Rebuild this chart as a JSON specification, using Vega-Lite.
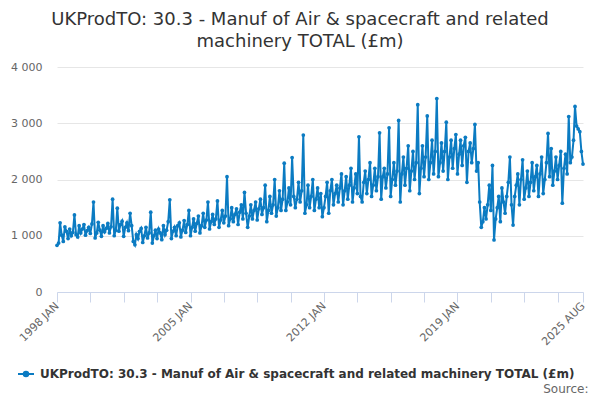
{
  "$schema": "https://vega.github.io/schema/vega-lite/v6.json",
  "description": "UKProdTO 30.3 monthly series, 1998 JAN to 2025 AUG",
  "width": 526,
  "height": 225,
  "autosize": {"type": "none"},
  "padding": {"left": 57, "top": 67, "right": 17, "bottom": 108},
  "background": "white",
  "config": {
    "font": "DejaVu Sans",
    "view": {"stroke": null}
  },
  "title": {
    "text": ["UKProdTO: 30.3 - Manuf of Air & spacecraft and related", "machinery TOTAL (£m)"],
    "fontSize": 18,
    "fontWeight": "normal",
    "color": "#333333",
    "anchor": "middle",
    "dx": -20,
    "offset": 10,
    "lineHeight": 22
  },
  "data": {
    "values": [
      {"month": "1998-01", "value": 830}, {"month": "1998-02", "value": 870}, {"month": "1998-03", "value": 1230}, {"month": "1998-04", "value": 1010}, {"month": "1998-05", "value": 900}, {"month": "1998-06", "value": 1160}, {"month": "1998-07", "value": 1080}, {"month": "1998-08", "value": 950}, {"month": "1998-09", "value": 1120}, {"month": "1998-10", "value": 1000}, {"month": "1998-11", "value": 1060}, {"month": "1998-12", "value": 1370},
      {"month": "1999-01", "value": 1020}, {"month": "1999-02", "value": 980}, {"month": "1999-03", "value": 1180}, {"month": "1999-04", "value": 1050}, {"month": "1999-05", "value": 1120}, {"month": "1999-06", "value": 1200}, {"month": "1999-07", "value": 1010}, {"month": "1999-08", "value": 1090}, {"month": "1999-09", "value": 1150}, {"month": "1999-10", "value": 1040}, {"month": "1999-11", "value": 1210}, {"month": "1999-12", "value": 1600},
      {"month": "2000-01", "value": 960}, {"month": "2000-02", "value": 1050}, {"month": "2000-03", "value": 1240}, {"month": "2000-04", "value": 1100}, {"month": "2000-05", "value": 990}, {"month": "2000-06", "value": 1180}, {"month": "2000-07", "value": 1070}, {"month": "2000-08", "value": 1130}, {"month": "2000-09", "value": 1220}, {"month": "2000-10", "value": 1050}, {"month": "2000-11", "value": 1160}, {"month": "2000-12", "value": 1650},
      {"month": "2001-01", "value": 1000}, {"month": "2001-02", "value": 1100}, {"month": "2001-03", "value": 1490}, {"month": "2001-04", "value": 1080}, {"month": "2001-05", "value": 1200}, {"month": "2001-06", "value": 1260}, {"month": "2001-07", "value": 990}, {"month": "2001-08", "value": 1150}, {"month": "2001-09", "value": 1230}, {"month": "2001-10", "value": 1090}, {"month": "2001-11", "value": 1400}, {"month": "2001-12", "value": 1180},
      {"month": "2002-01", "value": 900}, {"month": "2002-02", "value": 840}, {"month": "2002-03", "value": 1020}, {"month": "2002-04", "value": 950}, {"month": "2002-05", "value": 1080}, {"month": "2002-06", "value": 1130}, {"month": "2002-07", "value": 880}, {"month": "2002-08", "value": 1000}, {"month": "2002-09", "value": 1150}, {"month": "2002-10", "value": 960}, {"month": "2002-11", "value": 1050}, {"month": "2002-12", "value": 1420},
      {"month": "2003-01", "value": 870}, {"month": "2003-02", "value": 1000}, {"month": "2003-03", "value": 1100}, {"month": "2003-04", "value": 950}, {"month": "2003-05", "value": 1120}, {"month": "2003-06", "value": 1050}, {"month": "2003-07", "value": 930}, {"month": "2003-08", "value": 1180}, {"month": "2003-09", "value": 1020}, {"month": "2003-10", "value": 1100}, {"month": "2003-11", "value": 1250}, {"month": "2003-12", "value": 1640},
      {"month": "2004-01", "value": 950}, {"month": "2004-02", "value": 1080}, {"month": "2004-03", "value": 1150}, {"month": "2004-04", "value": 1000}, {"month": "2004-05", "value": 1180}, {"month": "2004-06", "value": 1230}, {"month": "2004-07", "value": 980}, {"month": "2004-08", "value": 1100}, {"month": "2004-09", "value": 1270}, {"month": "2004-10", "value": 1060}, {"month": "2004-11", "value": 1200}, {"month": "2004-12", "value": 1450},
      {"month": "2005-01", "value": 1000}, {"month": "2005-02", "value": 1150}, {"month": "2005-03", "value": 1300}, {"month": "2005-04", "value": 1080}, {"month": "2005-05", "value": 1220}, {"month": "2005-06", "value": 1350}, {"month": "2005-07", "value": 1050}, {"month": "2005-08", "value": 1180}, {"month": "2005-09", "value": 1400}, {"month": "2005-10", "value": 1150}, {"month": "2005-11", "value": 1280}, {"month": "2005-12", "value": 1600},
      {"month": "2006-01", "value": 1120}, {"month": "2006-02", "value": 1250}, {"month": "2006-03", "value": 1380}, {"month": "2006-04", "value": 1200}, {"month": "2006-05", "value": 1300}, {"month": "2006-06", "value": 1620}, {"month": "2006-07", "value": 1150}, {"month": "2006-08", "value": 1280}, {"month": "2006-09", "value": 1450}, {"month": "2006-10", "value": 1230}, {"month": "2006-11", "value": 1350}, {"month": "2006-12", "value": 2050},
      {"month": "2007-01", "value": 1180}, {"month": "2007-02", "value": 1300}, {"month": "2007-03", "value": 1500}, {"month": "2007-04", "value": 1250}, {"month": "2007-05", "value": 1380}, {"month": "2007-06", "value": 1480}, {"month": "2007-07", "value": 1200}, {"month": "2007-08", "value": 1420}, {"month": "2007-09", "value": 1550}, {"month": "2007-10", "value": 1300}, {"month": "2007-11", "value": 1770}, {"month": "2007-12", "value": 1400},
      {"month": "2008-01", "value": 1150}, {"month": "2008-02", "value": 1350}, {"month": "2008-03", "value": 1550}, {"month": "2008-04", "value": 1300}, {"month": "2008-05", "value": 1450}, {"month": "2008-06", "value": 1600}, {"month": "2008-07", "value": 1280}, {"month": "2008-08", "value": 1480}, {"month": "2008-09", "value": 1650}, {"month": "2008-10", "value": 1380}, {"month": "2008-11", "value": 1500}, {"month": "2008-12", "value": 1900},
      {"month": "2009-01", "value": 1250}, {"month": "2009-02", "value": 1450}, {"month": "2009-03", "value": 1700}, {"month": "2009-04", "value": 1400}, {"month": "2009-05", "value": 1550}, {"month": "2009-06", "value": 2000}, {"month": "2009-07", "value": 1350}, {"month": "2009-08", "value": 1500}, {"month": "2009-09", "value": 1800}, {"month": "2009-10", "value": 1450}, {"month": "2009-11", "value": 1650}, {"month": "2009-12", "value": 2290},
      {"month": "2010-01", "value": 1450}, {"month": "2010-02", "value": 1600}, {"month": "2010-03", "value": 1850}, {"month": "2010-04", "value": 1550}, {"month": "2010-05", "value": 2390}, {"month": "2010-06", "value": 1700}, {"month": "2010-07", "value": 1500}, {"month": "2010-08", "value": 1650}, {"month": "2010-09", "value": 1950}, {"month": "2010-10", "value": 1600}, {"month": "2010-11", "value": 1800}, {"month": "2010-12", "value": 2790},
      {"month": "2011-01", "value": 1400}, {"month": "2011-02", "value": 1550}, {"month": "2011-03", "value": 1900}, {"month": "2011-04", "value": 1500}, {"month": "2011-05", "value": 1700}, {"month": "2011-06", "value": 2000}, {"month": "2011-07", "value": 1450}, {"month": "2011-08", "value": 1650}, {"month": "2011-09", "value": 1850}, {"month": "2011-10", "value": 1500}, {"month": "2011-11", "value": 1750}, {"month": "2011-12", "value": 1340},
      {"month": "2012-01", "value": 1500}, {"month": "2012-02", "value": 1700}, {"month": "2012-03", "value": 1950}, {"month": "2012-04", "value": 1400}, {"month": "2012-05", "value": 1800}, {"month": "2012-06", "value": 2000}, {"month": "2012-07", "value": 1550}, {"month": "2012-08", "value": 1750}, {"month": "2012-09", "value": 1900}, {"month": "2012-10", "value": 1600}, {"month": "2012-11", "value": 1850}, {"month": "2012-12", "value": 2100},
      {"month": "2013-01", "value": 1550}, {"month": "2013-02", "value": 1800}, {"month": "2013-03", "value": 2050}, {"month": "2013-04", "value": 1650}, {"month": "2013-05", "value": 1900}, {"month": "2013-06", "value": 2200}, {"month": "2013-07", "value": 1600}, {"month": "2013-08", "value": 1850}, {"month": "2013-09", "value": 2100}, {"month": "2013-10", "value": 1750}, {"month": "2013-11", "value": 2760}, {"month": "2013-12", "value": 1700},
      {"month": "2014-01", "value": 1600}, {"month": "2014-02", "value": 1950}, {"month": "2014-03", "value": 2150}, {"month": "2014-04", "value": 1750}, {"month": "2014-05", "value": 2000}, {"month": "2014-06", "value": 2300}, {"month": "2014-07", "value": 1700}, {"month": "2014-08", "value": 1900}, {"month": "2014-09", "value": 2200}, {"month": "2014-10", "value": 1800}, {"month": "2014-11", "value": 2050}, {"month": "2014-12", "value": 2830},
      {"month": "2015-01", "value": 1650}, {"month": "2015-02", "value": 2050}, {"month": "2015-03", "value": 2200}, {"month": "2015-04", "value": 1850}, {"month": "2015-05", "value": 2100}, {"month": "2015-06", "value": 2920}, {"month": "2015-07", "value": 1700}, {"month": "2015-08", "value": 2000}, {"month": "2015-09", "value": 2300}, {"month": "2015-10", "value": 1900}, {"month": "2015-11", "value": 2150}, {"month": "2015-12", "value": 3050},
      {"month": "2016-01", "value": 1600}, {"month": "2016-02", "value": 2100}, {"month": "2016-03", "value": 2400}, {"month": "2016-04", "value": 1900}, {"month": "2016-05", "value": 2200}, {"month": "2016-06", "value": 2600}, {"month": "2016-07", "value": 1800}, {"month": "2016-08", "value": 2150}, {"month": "2016-09", "value": 2500}, {"month": "2016-10", "value": 2000}, {"month": "2016-11", "value": 2300}, {"month": "2016-12", "value": 3330},
      {"month": "2017-01", "value": 1750}, {"month": "2017-02", "value": 2200}, {"month": "2017-03", "value": 2600}, {"month": "2017-04", "value": 2050}, {"month": "2017-05", "value": 2400}, {"month": "2017-06", "value": 3130}, {"month": "2017-07", "value": 2000}, {"month": "2017-08", "value": 2300}, {"month": "2017-09", "value": 2700}, {"month": "2017-10", "value": 2100}, {"month": "2017-11", "value": 2500}, {"month": "2017-12", "value": 3440},
      {"month": "2018-01", "value": 2050}, {"month": "2018-02", "value": 2300}, {"month": "2018-03", "value": 2650}, {"month": "2018-04", "value": 2150}, {"month": "2018-05", "value": 2500}, {"month": "2018-06", "value": 3020}, {"month": "2018-07", "value": 2000}, {"month": "2018-08", "value": 2400}, {"month": "2018-09", "value": 2700}, {"month": "2018-10", "value": 2200}, {"month": "2018-11", "value": 2550}, {"month": "2018-12", "value": 2800},
      {"month": "2019-01", "value": 2100}, {"month": "2019-02", "value": 2450}, {"month": "2019-03", "value": 2700}, {"month": "2019-04", "value": 2250}, {"month": "2019-05", "value": 2600}, {"month": "2019-06", "value": 2750}, {"month": "2019-07", "value": 1950}, {"month": "2019-08", "value": 2500}, {"month": "2019-09", "value": 2650}, {"month": "2019-10", "value": 2300}, {"month": "2019-11", "value": 2550}, {"month": "2019-12", "value": 2980},
      {"month": "2020-01", "value": 2150}, {"month": "2020-02", "value": 2300}, {"month": "2020-03", "value": 1600}, {"month": "2020-04", "value": 1150}, {"month": "2020-05", "value": 1250}, {"month": "2020-06", "value": 1500}, {"month": "2020-07", "value": 1300}, {"month": "2020-08", "value": 1550}, {"month": "2020-09", "value": 1900}, {"month": "2020-10", "value": 1450}, {"month": "2020-11", "value": 2250}, {"month": "2020-12", "value": 925},
      {"month": "2021-01", "value": 1300}, {"month": "2021-02", "value": 1500}, {"month": "2021-03", "value": 1700}, {"month": "2021-04", "value": 1250}, {"month": "2021-05", "value": 1850}, {"month": "2021-06", "value": 1600}, {"month": "2021-07", "value": 1400}, {"month": "2021-08", "value": 1700}, {"month": "2021-09", "value": 1950}, {"month": "2021-10", "value": 2400}, {"month": "2021-11", "value": 1550}, {"month": "2021-12", "value": 1190},
      {"month": "2022-01", "value": 1700}, {"month": "2022-02", "value": 1900}, {"month": "2022-03", "value": 2100}, {"month": "2022-04", "value": 1550}, {"month": "2022-05", "value": 2000}, {"month": "2022-06", "value": 2350}, {"month": "2022-07", "value": 1650}, {"month": "2022-08", "value": 1850}, {"month": "2022-09", "value": 2150}, {"month": "2022-10", "value": 1700}, {"month": "2022-11", "value": 1950}, {"month": "2022-12", "value": 2300},
      {"month": "2023-01", "value": 1800}, {"month": "2023-02", "value": 2050}, {"month": "2023-03", "value": 2250}, {"month": "2023-04", "value": 1700}, {"month": "2023-05", "value": 2100}, {"month": "2023-06", "value": 2400}, {"month": "2023-07", "value": 1750}, {"month": "2023-08", "value": 2000}, {"month": "2023-09", "value": 2300}, {"month": "2023-10", "value": 2820}, {"month": "2023-11", "value": 2050}, {"month": "2023-12", "value": 2550},
      {"month": "2024-01", "value": 1900}, {"month": "2024-02", "value": 2150}, {"month": "2024-03", "value": 2400}, {"month": "2024-04", "value": 2000}, {"month": "2024-05", "value": 2250}, {"month": "2024-06", "value": 2500}, {"month": "2024-07", "value": 1580}, {"month": "2024-08", "value": 2200}, {"month": "2024-09", "value": 2450}, {"month": "2024-10", "value": 2100}, {"month": "2024-11", "value": 3120}, {"month": "2024-12", "value": 2300},
      {"month": "2025-01", "value": 2400}, {"month": "2025-02", "value": 2700}, {"month": "2025-03", "value": 3300}, {"month": "2025-04", "value": 2950}, {"month": "2025-05", "value": 2900}, {"month": "2025-06", "value": 2850}, {"month": "2025-07", "value": 2500}, {"month": "2025-08", "value": 2275}
    ]
  },
  "transform": [
    {"calculate": "'UKProdTO: 30.3 - Manuf of Air & spacecraft and related machinery TOTAL (£m)'", "as": "series"}
  ],
  "mark": {"type": "line", "strokeWidth": 2, "point": {"size": 14, "filled": true}},
  "encoding": {
    "x": {
      "field": "month",
      "type": "temporal",
      "scale": {
        "type": "utc",
        "domain": [{"year": 1998, "month": 1, "utc": true}, {"year": 2025, "month": 8, "utc": true}],
        "nice": false
      },
      "axis": {
        "title": "Source:",
        "titleFont": "DejaVu Sans",
        "titleFontSize": 12,
        "titleFontWeight": "normal",
        "titleColor": "#666666",
        "titleAnchor": "end",
        "titleAlign": "right",
        "titleBaseline": "middle",
        "titleX": 531,
        "titleY": 96,
        "values": [
          {"year": 1998, "month": 1, "utc": true}, {"year": 1999, "month": 10, "utc": true},
          {"year": 2001, "month": 7, "utc": true}, {"year": 2003, "month": 4, "utc": true},
          {"year": 2005, "month": 1, "utc": true}, {"year": 2006, "month": 10, "utc": true},
          {"year": 2008, "month": 7, "utc": true}, {"year": 2010, "month": 4, "utc": true},
          {"year": 2012, "month": 1, "utc": true}, {"year": 2013, "month": 10, "utc": true},
          {"year": 2015, "month": 7, "utc": true}, {"year": 2017, "month": 4, "utc": true},
          {"year": 2019, "month": 1, "utc": true}, {"year": 2020, "month": 10, "utc": true},
          {"year": 2022, "month": 7, "utc": true}, {"year": 2024, "month": 4, "utc": true},
          {"year": 2025, "month": 8, "utc": true}
        ],
        "labelExpr": "(utcmonth(datum.value) == 0 && (utcyear(datum.value) - 1998) % 7 == 0) || utcyear(datum.value) == 2025 ? utcFormat(datum.value, '%Y ') + upper(utcFormat(datum.value, '%b')) : ''",
        "labelAngle": -45,
        "labelAlign": "right",
        "labelBaseline": "middle",
        "labelPadding": 2,
        "labelFontSize": 11,
        "labelColor": "#666666",
        "labelOverlap": false,
        "labelBound": false,
        "labelFlush": false,
        "domainColor": "#ccd6eb",
        "tickColor": "#ccd6eb",
        "tickSize": 10,
        "grid": false
      }
    },
    "y": {
      "field": "value",
      "type": "quantitative",
      "scale": {"domain": [0, 4000], "nice": false},
      "axis": {
        "title": null,
        "values": [0, 1000, 2000, 3000, 4000],
        "labelExpr": "replace(format(datum.value, ','), ',', ' ')",
        "labelFontSize": 11,
        "labelColor": "#666666",
        "labelPadding": 15,
        "domain": false,
        "ticks": false,
        "gridColor": "#e6e6e6",
        "gridWidth": 1
      }
    },
    "color": {
      "field": "series",
      "type": "nominal",
      "scale": {"range": ["#0b7bc2"]},
      "legend": {
        "title": null,
        "orient": "none",
        "legendX": -40,
        "legendY": 298,
        "symbolType": "M-1,0L1,0M-0.28,0a0.28,0.28 0 1,0 0.56,0a0.28,0.28 0 1,0 -0.56,0",
        "symbolSize": 256,
        "symbolStrokeWidth": 2,
        "symbolFillColor": "#0b7bc2",
        "labelFontSize": 12,
        "labelFontWeight": "bold",
        "labelColor": "#333333",
        "labelLimit": 0,
        "labelOffset": 5
      }
    }
  }
}
